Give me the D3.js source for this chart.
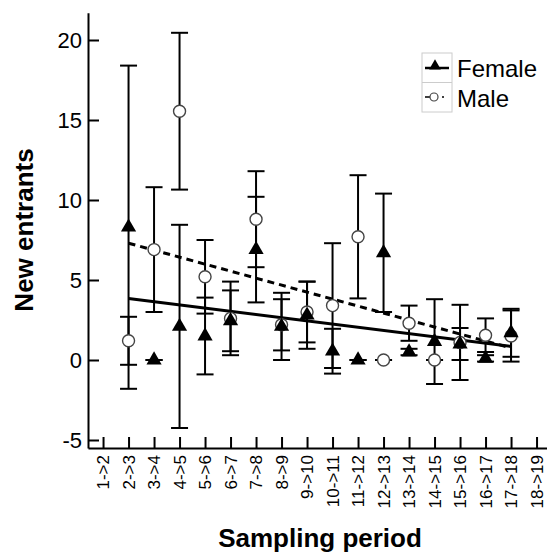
<!DOCTYPE html>
<html>
<head>
<meta charset="utf-8">
<script src="https://cdn.jsdelivr.net/npm/d3@7"></script>
<style>
  body { margin: 0; background: #fff; }
  svg { display: block; font-family: "Liberation Sans", Arial, sans-serif; }
  .axis path, .axis line { stroke: #000; stroke-width: 2; fill: none; }
  .axis text { fill: #000; font-family: "Liberation Sans", Arial, sans-serif; }
</style>
</head>
<body>
<svg width="547" height="559"></svg>
<script>
// sampling periods on the x axis (1->2 and 18->19 have no data)
var periods = ["1->2", "2->3", "3->4", "4->5", "5->6", "6->7", "7->8", "8->9", "9->10",
               "10->11", "11->12", "12->13", "13->14", "14->15", "15->16", "16->17", "17->18", "18->19"];
var dataPeriods = periods.slice(1, 17);

var femaleMean = [8.3, 0, 2.1, 1.5, 2.45, 6.9, 2.1, 2.8, 0.55, 0, 6.7, 0.5, 1.15, 1.0, 0.1, 1.7];
var femaleErr  = [10.1, 0, 6.35, 2.4, 1.9, 3.3, 2.1, 2.1, 1.4, 0, 3.7, 0.2, 2.65, 1.0, 0.2, 1.5];
var maleMean   = [1.2, 6.9, 15.55, 5.2, 2.6, 8.8, 2.2, 3.0, 3.4, 7.7, 0, 2.3, 0, 1.1, 1.55, 1.5];
var maleErr    = [1.5, 3.9, 4.9, 2.3, 2.3, 3.0, 1.6, 1.9, 3.9, 3.85, 0, 1.1, 0, 2.35, 1.05, 1.6];

// fitted trend lines: value at 2->3 and at 17->18
var trendPeriods = ["2->3", "17->18"];
var femaleTrend = [3.85, 0.85];
var maleTrend   = [7.3, 0.75];

var yTicks = [-5, 0, 5, 10, 15, 20];

var svg = d3.select("svg");

var x = d3.scaleLinear().domain([0.41, 18.41]).range([88, 547]);
var xp = function (p) { return x(periods.indexOf(p) + 1); };
var y = d3.scaleLinear().domain([-5.5, 21.7]).range([448, 12.8]);

// axes
var gy = svg.append("g")
    .attr("class", "axis")
    .attr("transform", "translate(" + x.range()[0] + ",0)")
    .call(d3.axisLeft(y).tickValues(yTicks).tickFormat(String)
        .tickSize(-11).tickSizeOuter(0).tickPadding(6));
gy.selectAll("text").style("font-size", "22px");

var gx = svg.append("g")
    .attr("class", "axis")
    .attr("transform", "translate(0," + y.range()[0] + ")")
    .call(d3.axisBottom(x).tickValues(d3.range(1, periods.length + 1))
        .tickFormat(function (i) { return periods[i - 1]; })
        .tickSize(-11).tickSizeOuter(0));
gx.selectAll("text")
    .style("font-size", "17px")
    .attr("transform", "rotate(-90)")
    .attr("text-anchor", "end")
    .attr("x", -7)
    .attr("y", 0)
    .attr("dy", "0.35em");

svg.append("text")
    .attr("transform", "translate(33,230) rotate(-90)")
    .attr("text-anchor", "middle")
    .style("font-size", "26px")
    .style("font-weight", "bold")
    .text("New entrants");

svg.append("text")
    .attr("x", 320)
    .attr("y", 547)
    .attr("text-anchor", "middle")
    .style("font-size", "26px")
    .style("font-weight", "bold")
    .text("Sampling period");

// trend lines
var line = d3.line()
    .x(function (d, i) { return xp(trendPeriods[i]); })
    .y(function (d) { return y(d); });

svg.append("path")
    .datum(femaleTrend)
    .attr("d", line)
    .attr("stroke", "#000")
    .attr("stroke-width", 3)
    .attr("fill", "none");

svg.append("path")
    .datum(maleTrend)
    .attr("d", line)
    .attr("stroke", "#000")
    .attr("stroke-width", 3)
    .attr("stroke-dasharray", "7,5")
    .attr("fill", "none");

// error bars
function errorBars(mean, err) {
  var rows = dataPeriods.map(function (p, i) {
    return { p: p, lo: mean[i] - err[i], hi: mean[i] + err[i] };
  });
  var g = svg.append("g").attr("stroke", "#000").attr("stroke-width", 2);
  g.selectAll(".stem").data(rows).enter().append("line")
      .attr("x1", function (d) { return xp(d.p); })
      .attr("x2", function (d) { return xp(d.p); })
      .attr("y1", function (d) { return y(d.lo); })
      .attr("y2", function (d) { return y(d.hi); });
  ["lo", "hi"].forEach(function (k) {
    g.selectAll(".cap-" + k).data(rows).enter().append("line")
        .attr("x1", function (d) { return xp(d.p) - 8.5; })
        .attr("x2", function (d) { return xp(d.p) + 8.5; })
        .attr("y1", function (d) { return y(d[k]); })
        .attr("y2", function (d) { return y(d[k]); });
  });
}
errorBars(maleMean, maleErr);
errorBars(femaleMean, femaleErr);

// points
svg.append("g").selectAll("circle")
    .data(maleMean).enter().append("circle")
    .attr("cx", function (d, i) { return xp(dataPeriods[i]); })
    .attr("cy", function (d) { return y(d); })
    .attr("r", 6)
    .attr("fill", "#fff")
    .attr("stroke", "#444")
    .attr("stroke-width", 1.4);

var tri = d3.symbol().type(d3.symbolTriangle).size(100);
svg.append("g").selectAll("path")
    .data(femaleMean).enter().append("path")
    .attr("d", tri)
    .attr("transform", function (d, i) { return "translate(" + xp(dataPeriods[i]) + "," + y(d) + ")"; })
    .attr("fill", "#000");

// legend
var legend = svg.append("g").attr("transform", "translate(422,53)");
legend.append("rect").attr("width", 30).attr("height", 59)
    .attr("fill", "none").attr("stroke", "#ccc").attr("stroke-width", 1);
legend.append("line").attr("x1", 0).attr("x2", 30).attr("y1", 29.5).attr("y2", 29.5)
    .attr("stroke", "#ccc").attr("stroke-width", 1);

legend.append("line").attr("x1", 3).attr("x2", 27).attr("y1", 15).attr("y2", 15)
    .attr("stroke", "#000").attr("stroke-width", 2.5);
legend.append("path").attr("d", d3.symbol().type(d3.symbolTriangle).size(60))
    .attr("transform", "translate(13,13)").attr("fill", "#000");

legend.append("line").attr("x1", 3).attr("x2", 22).attr("y1", 44).attr("y2", 44)
    .attr("stroke", "#000").attr("stroke-width", 1.5).attr("stroke-dasharray", "5,3,1,8");
legend.append("circle").attr("cx", 12).attr("cy", 44).attr("r", 4)
    .attr("fill", "#fff").attr("stroke", "#444").attr("stroke-width", 1.2);

var legendNames = ["Female", "Male"];
legend.selectAll(".lt").data(legendNames).enter().append("text")
    .attr("x", 35)
    .attr("y", function (d, i) { return 24 + i * 30; })
    .style("font-size", "24px")
    .text(function (d) { return d; });
</script>
</body>
</html>
